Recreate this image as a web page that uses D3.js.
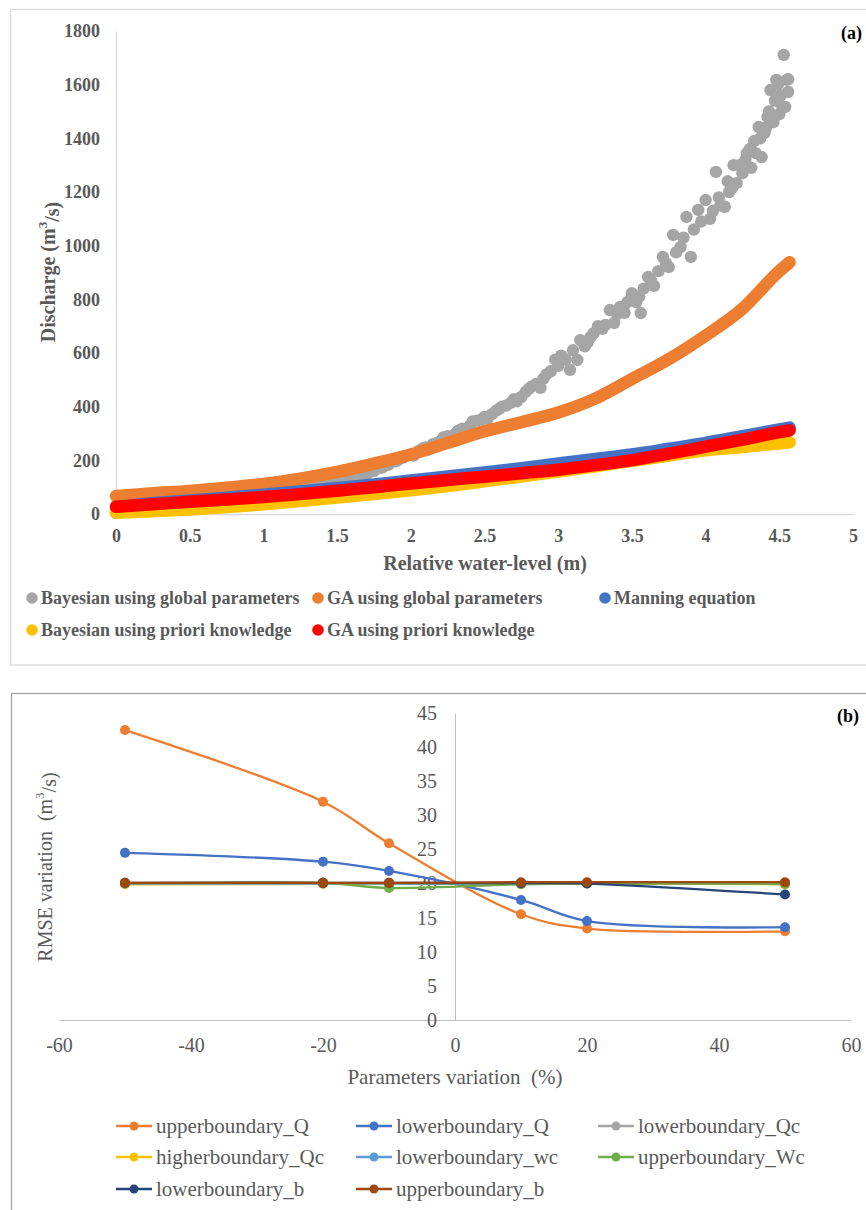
<!DOCTYPE html>
<html>
<head>
<meta charset="utf-8">
<script src="https://cdn.jsdelivr.net/npm/d3@7"></script>
<style>
  body { margin: 0; background: #fff; }
  text { font-family: "Liberation Serif", "Times New Roman", serif; white-space: pre; }
</style>
</head>
<body>
<svg id="chart" width="866" height="1210"></svg>
<script>
// ---------- panel (a) data ----------
const levels = [0, 0.25, 0.5, 0.75, 1, 1.25, 1.5, 1.75, 2, 2.25, 2.5, 2.75, 3, 3.25, 3.5, 3.75, 4, 4.25, 4.5, 4.57];
const gaGlobal = [67, 77, 86, 98, 112, 132, 157, 188, 222, 265, 308, 342, 378, 430, 503, 577, 665, 765, 905, 938];
const bayesPriori = [5, 10, 17, 26, 36, 48, 61, 74, 88, 104, 122, 140, 158, 178, 198, 218, 237, 250, 263, 267];
const gaPriori = [27, 36, 46, 54, 63, 74, 87, 100, 114, 127, 139, 152, 165, 182, 201, 225, 251, 277, 305, 312];
const manningLevels = [0, 0.1, 0.25, 0.5, 0.75, 1, 1.25, 1.5, 1.75, 2, 2.25, 2.5, 2.75, 3, 3.25, 3.5, 3.75, 4, 4.25, 4.5, 4.57];
const manning = [5, 30, 40, 50, 61, 72, 84, 97, 110, 125, 140, 155, 171, 188, 205, 222, 243, 265, 290, 315, 322];

// Bayesian using global parameters (scatter)
const bayesGlobalX = [0, 0.05, 0.1, 0.15, 0.2, 0.25, 0.3, 0.35, 0.4, 0.45, 0.5, 0.55, 0.6, 0.65, 0.7, 0.75, 0.8, 0.85, 0.9, 0.95,
  1, 1.05, 1.1, 1.15, 1.2, 1.25, 1.3, 1.35, 1.4, 1.45, 1.5, 1.55, 1.6, 1.65, 1.7, 1.75, 1.8, 1.85, 1.9, 1.95,
  2, 2.05, 2.1, 2.12, 2.15, 2.2, 2.22, 2.25, 2.28, 2.3, 2.35, 2.4, 2.42, 2.45, 2.5, 2.55, 2.58, 2.6, 2.62, 2.65, 2.7, 2.72, 2.75, 2.78,
  2.8, 2.85, 2.88, 2.9, 2.95, 2.98, 3, 3.05, 3.08, 3.1, 3.13, 3.15, 3.2, 3.24, 3.3, 3.35, 3.38, 3.42, 3.45, 3.5, 3.53, 3.56,
  3.61, 3.65, 3.71, 3.75, 3.78, 3.83, 3.87, 3.9, 3.95, 4, 4.03, 4.07, 4.1, 4.13, 4.16, 4.19, 4.21, 4.25, 4.28, 4.31, 4.33,
  4.36, 4.38, 4.4, 4.42, 4.44, 4.46, 4.48, 4.5, 4.52, 4.53, 4.54, 4.55, 4.56,
  1.62, 1.72, 1.82, 1.92, 2.02, 2.08, 2.18, 2.32, 2.38, 2.48,
  2.52, 2.68, 2.82, 2.92, 3.02, 3.18, 3.22, 3.27, 3.32, 3.4, 3.47, 3.55, 3.58, 3.63, 3.68, 3.73, 3.8, 3.85, 3.92, 3.97,
  4.05, 4.09, 4.15, 4.18, 4.23, 4.27, 4.3, 4.34, 4.37, 4.41, 4.43, 4.45, 4.47, 4.49, 4.51, 4.56];
const bayesGlobalY = [30, 32, 34, 36, 38, 40, 42, 44, 46, 48, 50, 52, 55, 57, 60, 62, 65, 68, 71, 75,
  78, 81, 85, 88, 92, 96, 100, 105, 110, 115, 121, 127, 134, 141, 150, 160, 172, 184, 196, 210,
  222, 234, 248, 240, 260, 270, 285, 290, 280, 298, 318, 328, 345, 348, 362, 372, 385, 392, 400, 405, 428, 420, 436, 455,
  466, 485, 470, 505, 532, 575, 552, 575, 537, 610, 574, 648, 640, 674, 690, 760, 712, 772, 750, 823, 790, 749,
  883, 850, 958, 920, 1040, 995, 1107, 958, 1133, 1170, 1100, 1275, 1150, 1145, 1200, 1300, 1233, 1270, 1345, 1290, 1390,
  1442, 1330, 1420, 1480, 1580, 1460, 1618, 1490, 1520, 1711, 1517, 1618, 1573,
  136, 156, 178, 204, 218, 244, 266, 310, 318, 352,
  355, 415, 475, 520, 590, 625, 660, 700, 705, 745, 790, 810, 840, 870, 905, 935, 975, 1030, 1060, 1090,
  1130, 1180, 1240, 1215, 1300, 1320, 1360, 1345, 1400, 1440, 1500, 1470, 1540, 1600, 1560, 1620];

const xTicksA = [0, 0.5, 1, 1.5, 2, 2.5, 3, 3.5, 4, 4.5, 5];
const yTicksA = [0, 200, 400, 600, 800, 1000, 1200, 1400, 1600, 1800];

// ---------- panel (b) data ----------
const variation = [-50, -20, -10, 10, 20, 50];
const upperQ = [42.5, 32.0, 25.9, 15.5, 13.4, 13.0];
const lowerQ = [24.5, 23.2, 21.85, 17.6, 14.5, 13.6];
const lowerQc = [20.0, 20.05, 20.05, 20.0, 20.05, 20.0];
const higherQc = [19.9, 19.95, 19.95, 19.95, 20.0, 19.9];
const lowerWc = [20.0, 20.0, 20.0, 20.0, 20.05, 20.0];
const upperWc = [20.0, 20.1, 19.35, 19.9, 20.0, 19.95];
const lowerB = [20.1, 20.1, 20.1, 20.05, 20.0, 18.4];
const upperB = [20.1, 20.1, 20.1, 20.2, 20.2, 20.2];
const xTicksB = [-60, -40, -20, 0, 20, 40, 60];
const yTicksB = [0, 5, 10, 15, 20, 25, 30, 35, 40, 45];

const svg = d3.select("#chart");

// ================= panel (a) =================
svg.append("rect").attr("x", 10.5).attr("y", 9.5).attr("width", 870).attr("height", 655.5)
  .attr("fill", "none").attr("stroke", "#d9d9d9").attr("stroke-width", 1.3);

const xA = d3.scaleLinear().domain([0, 5]).range([116, 853]);
const yA = d3.scaleLinear().domain([0, 1800]).range([514, 31]);

const gA = svg.append("g");

const axA = gA.append("g").attr("transform", "translate(0,514)")
  .call(d3.axisBottom(xA).tickValues(xTicksA).tickSize(0).tickPadding(15).tickFormat(d => String(d)));
const ayA = gA.append("g").attr("transform", "translate(116,0)")
  .call(d3.axisLeft(yA).tickValues(yTicksA).tickSize(0).tickPadding(16).tickFormat(d => String(d)));
[axA, ayA].forEach(a => {
  a.select(".domain").attr("stroke", "#d9d9d9").attr("stroke-width", 1.3);
  a.selectAll("text").attr("font-size", 18).attr("font-weight", "bold").attr("fill", "#595959")
    .style("font-family", "'Liberation Serif', serif");
});

// scatter first
const gray = "#A5A5A5", orange = "#ED7D31", blue = "#4472C4", yellow = "#FFC000", red = "#FF0000";
gA.append("g").selectAll("circle").data(bayesGlobalX.map((x, i) => [x, bayesGlobalY[i]]))
  .enter().append("circle")
  .attr("cx", d => xA(d[0])).attr("cy", d => yA(d[1])).attr("r", 6.2).attr("fill", gray);

const thick = (xs, ys, color) => {
  const line = d3.line().x(d => xA(d[0])).y(d => yA(d[1])).curve(d3.curveMonotoneX);
  gA.append("path").datum(xs.map((x, i) => [x, ys[i]]))
    .attr("d", line).attr("fill", "none").attr("stroke", color)
    .attr("stroke-width", 12.5).attr("stroke-linecap", "round").attr("stroke-linejoin", "round");
};
thick(levels, gaGlobal, orange);
thick(manningLevels, manning, blue);
thick(levels, bayesPriori, yellow);
thick(levels, gaPriori, red);

gA.append("text").attr("x", 48).attr("y", 272).attr("transform", "rotate(-90,48,272)")
  .attr("text-anchor", "middle").attr("dy", "0.35em")
  .attr("font-size", 20).attr("font-weight", "bold").attr("fill", "#595959")
  .call(t => {
    t.append("tspan").text("Discharge (m");
    t.append("tspan").attr("font-size", 13).attr("dy", "-0.6em").text("3");
    t.append("tspan").attr("dy", "0.6em").text("/s)");
  });
gA.append("text").attr("x", 485).attr("y", 570).attr("text-anchor", "middle")
  .attr("font-size", 20).attr("font-weight", "bold").attr("fill", "#595959")
  .text("Relative water-level (m)");
gA.append("text").attr("x", 862).attr("y", 39).attr("text-anchor", "end")
  .attr("font-size", 18).attr("font-weight", "bold").attr("fill", "#000").text("(a)");

const legendA = [
  { name: "Bayesian using global parameters", color: gray, x: 32, y: 598 },
  { name: "GA using global parameters", color: orange, x: 318, y: 598 },
  { name: "Manning equation", color: blue, x: 605, y: 598 },
  { name: "Bayesian using priori knowledge", color: yellow, x: 32, y: 630 },
  { name: "GA using priori knowledge", color: red, x: 318, y: 630 }
];
const la = gA.append("g").selectAll("g").data(legendA).enter().append("g")
  .attr("transform", d => `translate(${d.x},${d.y})`);
la.append("circle").attr("r", 5.8).attr("fill", d => d.color);
la.append("text").attr("x", 9).attr("dy", "0.35em").attr("font-size", 18).attr("font-weight", "bold")
  .attr("fill", "#595959").text(d => d.name);

// ================= panel (b) =================
svg.append("rect").attr("x", 11.5).attr("y", 693.5).attr("width", 870).attr("height", 560)
  .attr("fill", "none").attr("stroke", "#a6a6a6").attr("stroke-width", 1.3);

const xB = d3.scaleLinear().domain([-60, 60]).range([59, 851]);
const yB = d3.scaleLinear().domain([0, 45]).range([1020, 713]);
const gB = svg.append("g");

const axB = gB.append("g").attr("transform", "translate(0,1020)")
  .call(d3.axisBottom(xB).tickValues(xTicksB).tickSize(0).tickPadding(18).tickFormat(d => String(d)));
const ayB = gB.append("g").attr("transform", "translate(455,0)")
  .call(d3.axisLeft(yB).tickValues(yTicksB).tickSize(0).tickPadding(18).tickFormat(d => String(d)));
[axB, ayB].forEach(a => {
  a.select(".domain").attr("stroke", "#bfbfbf").attr("stroke-width", 1);
  a.selectAll("text").attr("font-size", 20).attr("fill", "#595959")
    .style("font-family", "'Liberation Serif', serif");
});

const seriesB = [
  { name: "upperboundary_Q", color: "#ED7D31", values: upperQ },
  { name: "lowerboundary_Q", color: "#4472C4", values: lowerQ },
  { name: "lowerboundary_Qc", color: "#A5A5A5", values: lowerQc },
  { name: "higherboundary_Qc", color: "#FFC000", values: higherQc },
  { name: "lowerboundary_wc", color: "#5B9BD5", values: lowerWc },
  { name: "upperboundary_Wc", color: "#70AD47", values: upperWc },
  { name: "lowerboundary_b", color: "#264478", values: lowerB },
  { name: "upperboundary_b", color: "#9E480E", values: upperB }
];
const lineB = d3.line().x(d => xB(d[0])).y(d => yB(d[1])).curve(d3.curveCatmullRom.alpha(0.5));
seriesB.forEach(s => {
  const pts = variation.map((v, i) => [v, s.values[i]]);
  const g = gB.append("g");
  g.append("path").datum(pts).attr("d", lineB).attr("fill", "none")
    .attr("stroke", s.color).attr("stroke-width", 2.3);
  g.selectAll("circle").data(pts).enter().append("circle")
    .attr("cx", d => xB(d[0])).attr("cy", d => yB(d[1])).attr("r", 5).attr("fill", s.color);
});

gB.append("text").attr("x", 45).attr("y", 867).attr("transform", "rotate(-90,45,867)")
  .attr("text-anchor", "middle").attr("dy", "0.35em")
  .attr("font-size", 20).attr("fill", "#595959")
  .call(t => {
    t.append("tspan").text("RMSE variation  (m");
    t.append("tspan").attr("font-size", 13).attr("dy", "-0.6em").text("3");
    t.append("tspan").attr("dy", "0.6em").text("/s)");
  });
gB.append("text").attr("x", 455).attr("y", 1084).attr("text-anchor", "middle")
  .attr("font-size", 21).attr("fill", "#595959").text("Parameters variation  (%)");
gB.append("text").attr("x", 859).attr("y", 722).attr("text-anchor", "end")
  .attr("font-size", 18).attr("font-weight", "bold").attr("fill", "#000").text("(b)");

const colX = [116, 356, 598], rowY = [1126, 1157, 1189];
const lb = gB.append("g").selectAll("g").data(seriesB).enter().append("g")
  .attr("transform", (d, i) => `translate(${colX[i % 3]},${rowY[Math.floor(i / 3)]})`);
lb.append("line").attr("x1", 0).attr("x2", 36).attr("stroke", d => d.color).attr("stroke-width", 2.3);
lb.append("circle").attr("cx", 18).attr("r", 4.5).attr("fill", d => d.color);
lb.append("text").attr("x", 40).attr("dy", "0.35em").attr("font-size", 21).attr("fill", "#595959")
  .text(d => d.name);
</script>
</body>
</html>
